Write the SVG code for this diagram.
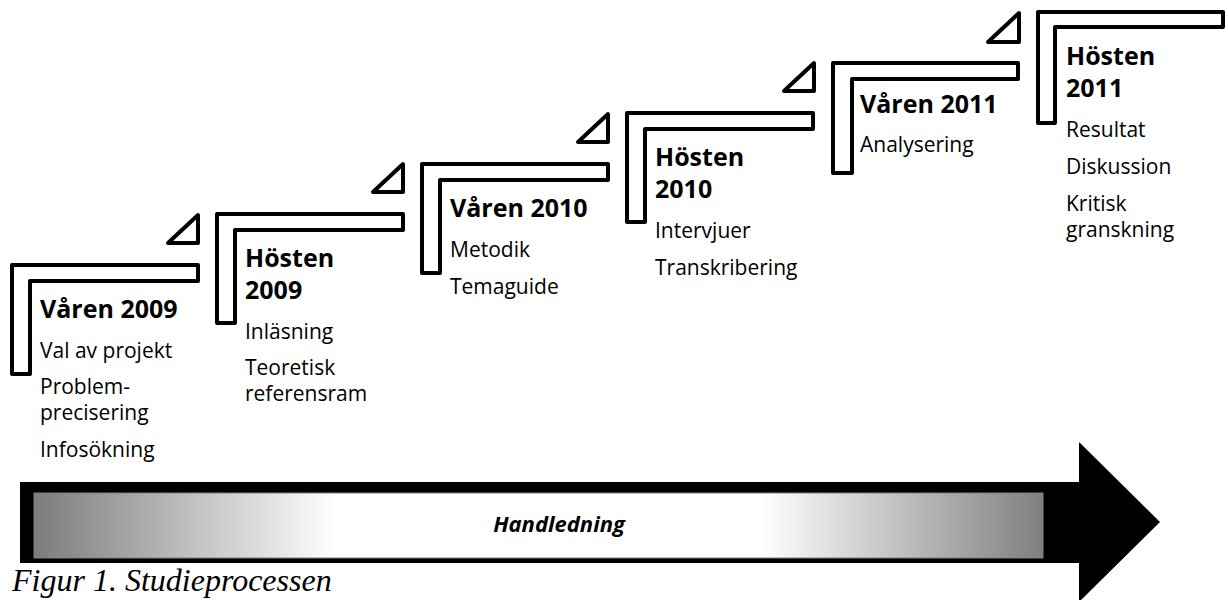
<svg xmlns="http://www.w3.org/2000/svg" width="1228" height="600" viewBox="0 0 1228 600">
<defs>
<style>
.step{fill:#fff;stroke:#000;stroke-width:4;stroke-linejoin:round}
.hd{font-family:"Open Sans","Noto Sans",sans-serif;font-weight:bold;font-size:25px;fill:#000}
.it{font-family:"Open Sans","Noto Sans",sans-serif;font-size:21px;fill:#000}
.cap{font-family:"Liberation Serif","Times New Roman",serif;font-style:italic;font-size:32px;fill:#000}
.hl{font-family:"Open Sans","Noto Sans",sans-serif;font-weight:bold;font-style:italic;font-size:22px;fill:#000}
</style>
<linearGradient id="grad" x1="34" y1="0" x2="1043" y2="0" gradientUnits="userSpaceOnUse">
<stop offset="0" stop-color="#7c7c7c"/>
<stop offset="0.3" stop-color="#ffffff"/>
<stop offset="0.72" stop-color="#ffffff"/>
<stop offset="1" stop-color="#808080"/>
</linearGradient>
</defs>
<rect width="1228" height="600" fill="#fff"/>

<g id="timeline">
<path d="M20,482 H1079 V442 L1160,522 L1079,602 V563 H20 Z" fill="#000"/>
<rect x="34" y="493" width="1009" height="65" fill="url(#grad)" stroke="#808080" stroke-width="1"/>
<text class="hl" x="559" y="532" text-anchor="middle">Handledning</text>
</g>

<g id="connectors">
<path class="step" d="M198,215 V243 H168 Z"/>
<path class="step" d="M403,164 V192 H373 Z"/>
<path class="step" d="M608,114 V142 H578 Z"/>
<path class="step" d="M814,63 V91 H784 Z"/>
<path class="step" d="M1019,13 V42 H988 Z"/>
</g>

<g id="step1">
<path class="step" d="M12,265 H198 V281 H30 V374 H12 Z"/>
<text class="hd" x="40" y="318">Våren 2009</text>
<text class="it" x="40" y="358">Val av projekt</text>
<text class="it" x="40" y="394">Problem-</text>
<text class="it" x="40" y="420">precisering</text>
<text class="it" x="40" y="457">Infosökning</text>
</g>

<g id="step2">
<path class="step" d="M217,214 H403 V230 H235 V323 H217 Z"/>
<text class="hd" x="245" y="267">Hösten</text>
<text class="hd" x="245" y="299">2009</text>
<text class="it" x="245" y="339">Inläsning</text>
<text class="it" x="245" y="375">Teoretisk</text>
<text class="it" x="245" y="401">referensram</text>
</g>

<g id="step3">
<path class="step" d="M422,164 H608 V180 H440 V273 H422 Z"/>
<text class="hd" x="450" y="217">Våren 2010</text>
<text class="it" x="450" y="257">Metodik</text>
<text class="it" x="450" y="294">Temaguide</text>
</g>

<g id="step4">
<path class="step" d="M627,113 H813 V129 H645 V222 H627 Z"/>
<text class="hd" x="655" y="166">Hösten</text>
<text class="hd" x="655" y="198">2010</text>
<text class="it" x="655" y="238">Intervjuer</text>
<text class="it" x="655" y="275">Transkribering</text>
</g>

<g id="step5">
<path class="step" d="M833,63 H1018 V79 H852 V173 H833 Z"/>
<text class="hd" x="860" y="113">Våren 2011</text>
<text class="it" x="860" y="152">Analysering</text>
</g>

<g id="step6">
<path class="step" d="M1038,12 H1223 V27 H1055 V123 H1038 Z"/>
<text class="hd" x="1066" y="65">Hösten</text>
<text class="hd" x="1066" y="97">2011</text>
<text class="it" x="1066" y="137">Resultat</text>
<text class="it" x="1066" y="174">Diskussion</text>
<text class="it" x="1066" y="211">Kritisk</text>
<text class="it" x="1066" y="237">granskning</text>
</g>

<text class="cap" x="12" y="591">Figur 1. Studieprocessen</text>
</svg>
